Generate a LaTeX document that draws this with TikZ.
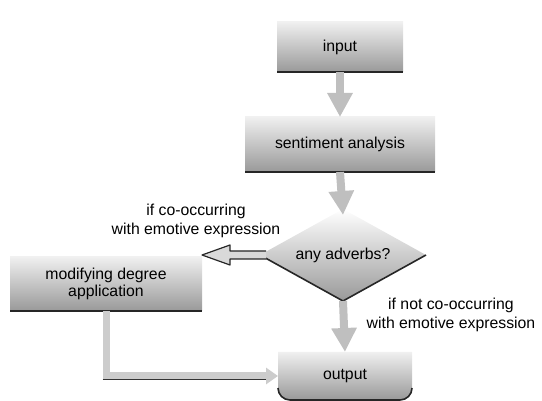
\documentclass[tikz,border=0pt]{standalone}
\usepackage{fontspec}
\setmainfont{Liberation Sans}
\usetikzlibrary{shapes.geometric,arrows.meta,calc}
\begin{document}
\begin{tikzpicture}[x=1pt,y=1pt,
  txt/.style={font=\fontsize{15.8}{16.5}\selectfont},
  lbl/.style={align=center, font=\fontsize{15.8}{18.5}\selectfont},
  boxnode/.style={rectangle, inner sep=0pt, outer sep=0pt, align=center, txt,
    top color=gray!12, bottom color=gray!80},
  botline/.style={line width=1.6pt, black!85},
  fatarrow/.style={line width=8pt, draw=gray!50, -{Triangle[width=24pt,length=24pt]}},
  band/.style={line width=7pt, draw=gray!40, -{Triangle[width=16pt,length=12pt]}},
  hollow/.style={draw=black!85, line width=1.2pt, fill=gray!30, line join=round}
]
\useasboundingbox (0,0) rectangle (542,-401);

% nodes
\node[boxnode, minimum width=126pt, minimum height=50pt] (in) at (340,-47) {input};
\node[boxnode, minimum width=190pt, minimum height=55pt] (sa) at (340,-144.5) {sentiment analysis};
\node[diamond, inner sep=0pt, outer sep=0pt, minimum width=166pt, minimum height=92pt,
      aspect=1.8, top color=white, bottom color=gray!80, txt] (d) at (343,-255) {any adverbs?};
\node[boxnode, minimum width=192pt, minimum height=54pt] (mod) at (106,-284) {modifying degree\\application};
\node[inner sep=0pt, outer sep=0pt, minimum width=134pt, minimum height=48pt] (out) at (345,-376) {};
\shade[top color=gray!12, bottom color=gray!80]
  (out.north west) -- (out.north east) -- ([yshift=12pt]out.south east)
  arc[start angle=0, end angle=-90, radius=12pt] -- ([xshift=12pt]out.south west)
  arc[start angle=270, end angle=180, radius=12pt] -- cycle;
\node[txt] (outtxt) at (out.center) {output};

% bottom edges
\draw[botline] (in.south west) -- (in.south east);
\draw[botline] (sa.south west) -- (sa.south east);
\draw[botline] (mod.south west) -- (mod.south east);
\draw[botline] (d.west) -- (d.south) -- (d.east);
\draw[botline] ([yshift=12pt]out.south east) arc[start angle=0, end angle=-90, radius=12pt]
  -- ([xshift=12pt]out.south west) arc[start angle=270, end angle=180, radius=12pt];

% vertical fat arrows
\draw[fatarrow] (in.south) -- (sa.north);
\draw[fatarrow] (sa.south) -- ([yshift=-6pt]d.north);
\draw[fatarrow] (d.south) -- (out.north);

% hollow left arrow
\coordinate (T) at (d.west -| mod.east);
\filldraw[hollow] ($(d.west)+(6,4)$) -- ($(T)+(28,4)$) -- ($(T)+(28,10)$) -- (T)
  -- ($(T)+(28,-10)$) -- ($(T)+(28,-4)$) -- ($(d.west)+(6,-4)$);

% bottom connector
\draw[band] (mod.south) |- (out.west);
\draw[line width=1.2pt, black!80] ($(mod.south |- out.west)+(-3.5,-3.5)$) -- ($(out.west)+(-12,-3.5)$);

% labels
\node[lbl] (l1) at (196,-221) {if co-occurring\\with emotive expression};
\node[lbl] (l2) at (451,-315) {if not co-occurring\\with emotive expression};
\end{tikzpicture}
\end{document}
